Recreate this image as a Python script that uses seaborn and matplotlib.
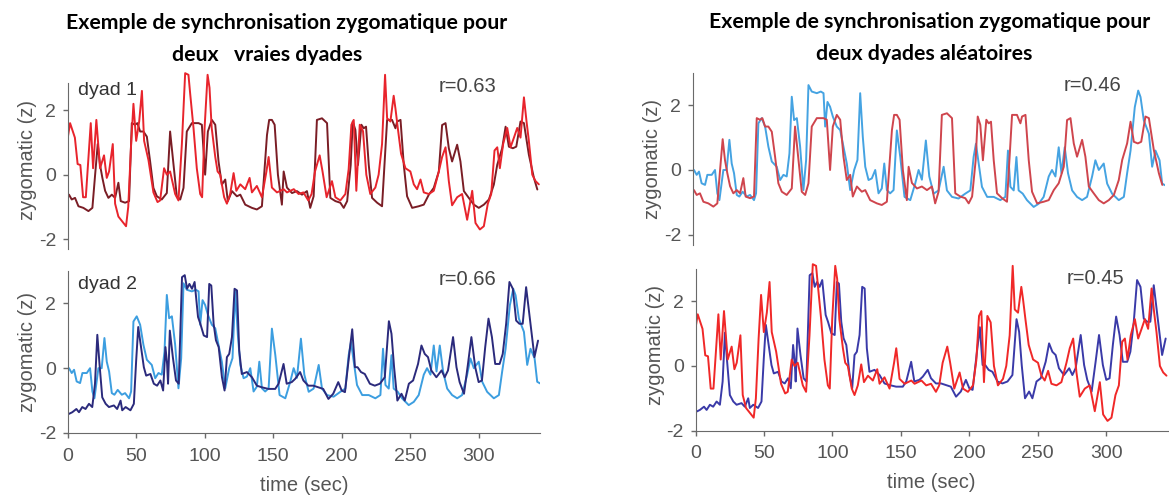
import matplotlib
matplotlib.use("Agg")
import matplotlib.pyplot as plt
import seaborn as sns

# Zygomatic z-scores (time in sec)
# person A of dyad 1 (bright red)
t_a = [0, 1.5, 5, 7, 9, 11, 13, 16.6, 18.3, 20.7,
       23.4, 26.3, 28.3, 30, 32.7, 34.4, 36.8, 40.5, 42.4, 44,
       46, 47.8, 49.8, 52, 54, 55.6, 58.8, 62.4, 65.4, 67.3,
       70.2, 72.2, 74.6, 78.3, 80.7, 83.2, 85.6, 88, 89.3, 91.7,
       94.1, 96.6, 98, 99.8, 102, 103.4, 105, 107.6, 109.3, 111.2,
       114.1, 116.1, 118.5, 121, 123, 125.9, 129.5, 132.7, 134.4, 138,
       141.7, 145, 146.6, 149, 152.7, 157.6, 160, 165, 168.5, 172,
       175.6, 178, 180.5, 183.9, 186, 189, 192.9, 195.4, 199, 202.7,
       205.1, 207.1, 208.8, 210.7, 213.2, 215.6, 218, 220.9, 224.6, 227,
       229.5, 231.7, 233.2, 235.6, 238, 239.3, 241, 243.4, 246.6, 250.2,
       252.7, 255.1, 257.6, 260, 263.7, 267.3, 271, 273.4, 275.9, 278.3,
       280.7, 284.4, 288, 291.7, 295.4, 297.8, 301, 303.9, 306.8, 309.3,
       311.7, 313.7, 315.6, 318, 321, 323.4, 325.9, 328.3, 330.7, 333.2,
       335.1, 336.8, 339.3, 341.7, 344.1]
z_a = [1.2, 1.6, 1.15, 0.33, 0.3, -0.7, -0.7, 1.6, 0.2, 1.7,
       0.2, 0.6, -0.1, 0.1, 0.95, -0.9, -1.3, -1.5, -1.6, -1.0,
       0.85, 2.2, 1.05, 1.65, 2.6, 1.05, 0.45, -0.55, -0.85, -0.8,
       0.2, 0.0, 0.1, -0.6, -0.8, 0.95, 3.15, 3.1, 2.5, 1.45,
       0.2, -0.6, -0.7, 1.45, 3.1, 2.7, 1.45, 0.55, 0.1, 0.0,
       -0.7, -0.9, -0.6, 0.05, -0.5, -0.3, -0.45, -0.1, -0.55, -0.35,
       -0.7, 0.1, 0.55, -0.4, -0.55, -0.45, -0.55, -0.45, -0.6, -0.55,
       -0.8, -0.6, 0.1, 0.6, 0.1, -0.7, -0.2, -0.7, -0.8, -0.6,
       0.17, 1.55, 1.7, -0.5, 1.55, 1.35, 0.0, -0.6, -0.4, 0.0,
       0.95, 3.1, 1.75, 1.65, 2.45, 2.05, 1.45, 0.65, 0.2, 0.1,
       -0.3, -0.45, -0.15, -0.55, -0.6, -0.5, 0.1, 0.55, 0.85, -0.2,
       -0.95, -0.7, -0.6, -1.4, -0.5, -1.5, -1.7, -1.6, -0.9, -0.6,
       0.75, 0.85, 0.2, 0.95, 1.45, 0.85, 1.15, 1.45, 1.15, 2.4,
       1.65, 1.05, 0.0, -0.2, -0.3]

# person B of dyad 1 (dark red)
t_b = [0.7, 2.7, 5.1, 7.6, 11.2, 14.9, 17.8, 19.8, 21.7, 23.4,
       25.1, 27.1, 29.5, 32, 34.4, 36.8, 38.5, 41.7, 44.6, 46.6,
       49, 50.7, 52.7, 55.1, 57.6, 60, 62.4, 64.9, 68.5, 72.2,
       74.6, 77.1, 79.5, 82, 84.4, 86.8, 90.5, 95.4, 97.8, 100.2,
       102.2, 105.1, 107.6, 110, 112.4, 114.9, 116.8, 119.8, 123.4, 125.9,
       129.5, 134.4, 138, 141.7, 145.4, 147, 149, 151, 153.4, 156.3,
       157.6, 160, 163.7, 167.3, 171, 174.6, 177, 179.5, 181.9, 185.6,
       189.3, 191.7, 195.4, 199, 201.5, 204, 206.6, 208.1, 210, 211.9,
       214.4, 216.1, 217.8, 219.8, 222.2, 225.9, 229.5, 233.2, 236.8, 239.3,
       240.5, 243, 245.4, 247.8, 251.5, 256.3, 260, 263.7, 267.3, 271,
       273.4, 275.9, 278.3, 280.7, 284.4, 286.8, 289.3, 292.9, 296.6, 300.2,
       303.9, 307.6, 311.2, 313.7, 317.3, 319.8, 322.2, 325.1, 327.6, 330.7,
       333.2, 336.8, 340.5, 343]
z_b = [-0.62, -0.77, -0.72, -0.98, -1.03, -1.13, -1.03, 0.0, 0.95, 0.3,
       -0.1, -0.5, -0.72, -0.62, -0.72, -0.25, -0.82, -0.87, -0.82, 1.6,
       1.55, 1.6, 1.34, 1.34, 1.18, 0.41, -0.41, -0.67, -0.77, -0.57,
       1.34, 0.31, -0.67, -0.77, -0.41, 1.34, 1.6, 1.6, 1.55, 0.0,
       1.34, 1.7, 1.55, 0.41, -0.31, -0.15, -0.82, -0.51, -0.67, -0.62,
       -0.93, -1.03, -1.08, -0.98, 1.23, 1.7, 1.7, 1.55, 0.0, -0.93,
       0.1, -0.4, -0.57, -0.51, -0.62, -0.51, -1.03, -0.67, 1.7, 1.75,
       1.6, -0.72, -0.82, -0.87, -1.03, -0.82, 0.3, 1.65, 1.39, 0.3,
       1.55, 1.44, 1.49, 0.3, -0.72, -0.87, -0.98, 1.7, 1.7, 1.44,
       1.65, 1.7, 0.3, -0.67, -1.03, -0.98, -0.93, -0.62, -0.41, 0.1,
       1.54, 1.6, 0.82, 0.41, 0.93, 0.41, -0.51, -0.72, -0.93, -1.03,
       -0.93, -0.77, -0.31, 0.31, 0.82, 1.49, 0.87, 0.82, 0.87, 1.65,
       1.6, 0.62, -0.1, -0.46]

# person A of dyad 2 (dark blue)
t_c = [0.7, 3.1, 6.1, 8.0, 10.4, 12.8, 15.3, 17.7, 19.7, 21.4,
       23.0, 25.0, 27.5, 29.9, 33.5, 35.9, 38.4, 39.6, 42.1, 45.6,
       48.1, 49.8, 51.3, 53.0, 55.4, 57.1, 60.2, 62.7, 65.1, 67.5,
       69.5, 71.2, 72.4, 73.1, 74.4, 76.6, 78.9, 80.9, 83.3, 85.3,
       87.0, 88.7, 90.6, 92.5, 95.0, 96.7, 99.2, 101.6, 103.2, 104.7,
       106.4, 108.1, 110.1, 112.5, 114.4, 116.1, 117.8, 119.8, 121.7, 123.5,
       125.1, 127.0, 130.7, 134.4, 138.0, 141.6, 146.5, 151.4, 153.9, 157.5,
       159.8, 163.5, 166.0, 169.6, 172.0, 175.6, 179.3, 182.9, 186.5, 190.3,
       193.8, 197.5, 200.0, 202.4, 205.3, 207.7, 209.7, 211.6, 214.1, 216.9,
       220.6, 224.2, 227.9, 231.5, 234.5, 236.4, 238.3, 240.7, 243.7, 246.1,
       249.1, 252.2, 255.8, 258.3, 260.7, 263.1, 265.5, 269.2, 273.0, 275.3,
       277.7, 281.4, 283.9, 286.2, 289.4, 292.3, 294.8, 297.6, 300.1, 302.5,
       304.9, 307.3, 309.8, 312.2, 315.4, 317.7, 320.2, 322.6, 325.1, 327.5,
       329.9, 332.3, 334.8, 336.5, 338.5, 340.9, 343.5]
z_c = [-1.41, -1.36, -1.26, -1.36, -1.2, -1.26, -1.1, -1.2, -0.48, 1.03,
       0.13, -0.9, -1.1, -1.2, -1.15, -1.26, -1.0, -1.3, -1.2, -1.3,
       -1.1, 0.24, 1.27, 0.75, 0.03, -0.23, -0.18, -0.48, -0.54, -0.38,
       -0.69, 0.65, 0.13, -0.48, 1.16, 0.34, -0.38, -0.48, 2.81, 2.87,
       2.45, 2.6, 2.45, 2.66, 1.58, 1.37, 1.01, 0.96, 2.6, 2.55,
       1.37, 0.86, 0.65, -0.28, -0.69, 0.34, 0.44, 0.96, 2.45, 2.4,
       0.55, -0.18, -0.12, -0.28, -0.54, -0.59, -0.64, -0.64, -0.48, 0.13,
       -0.48, -0.43, -0.33, -0.12, -0.38, -0.54, -0.54, -0.59, -0.64, -0.95,
       -0.79, -0.43, -0.69, -0.74, 0.34, 1.2, 0.03, 0.03, -0.12, -0.18,
       -0.48, -0.54, -0.48, -0.28, 1.45, 1.06, 0.03, -1.0, -0.79, -1.0,
       -0.48, -0.38, 0.13, 0.7, 0.44, 0.34, -0.07, -0.28, -0.07, -0.28,
       -0.07, 0.96, 0.03, -0.43, -0.79, 0.13, 0.96, 0.03, -0.43, -0.38,
       0.65, 1.53, 0.96, 0.13, 0.13, 0.44, 1.37, 2.66, 2.45, 1.47,
       1.37, 1.37, 2.5, 1.89, 1.16, 0.34, 0.85]

# person B of dyad 2 (light blue)
t_d = [0.7, 2.7, 4.4, 6.3, 8.8, 10.5, 13.7, 16.1, 17.8, 19.3,
       22.2, 24.6, 26.6, 28.3, 30, 32, 33.9, 36.3, 39.3, 41.7,
       44.6, 46.1, 47.8, 50.2, 52.7, 55.1, 57.6, 61.2, 63.7, 66.1,
       68.5, 70.5, 72.2, 73.9, 75.9, 78.3, 80.7, 82.7, 84.4, 86.8,
       90.5, 93.4, 95.4, 96.6, 98.3, 100.2, 102.2, 105.1, 107.6, 110,
       112.4, 114.9, 117.8, 120.2, 122.2, 124.1, 125.9, 128.3, 130.7, 133.2,
       135.6, 138, 139.8, 141.7, 144.1, 146.6, 149, 151.5, 154.6, 158.8,
       162.4, 164.9, 167.3, 170.2, 172.7, 175.9, 179.5, 183.2, 185.6, 189.3,
       194.1, 199, 202.7, 205.1, 206.8, 208.8, 211.2, 215, 219.8, 224.6,
       228.3, 230.2, 232, 234.4, 236.4, 238, 241, 244.1, 249, 252.7,
       256.3, 260, 262.4, 264.9, 267.3, 269.3, 271.7, 274.1, 277.1, 280.7,
       284.4, 288, 291.7, 294.1, 296.6, 300.2, 302.7, 306.3, 311.2, 314.9,
       317.3, 319.8, 322.9, 325.4, 327.1, 329.5, 333.2, 335.6, 338, 341,
       342.9, 345]
z_d = [0.0, -0.15, -0.05, -0.41, -0.46, -0.15, -0.15, 0.0, -0.72, -0.93,
       0.0, 0.0, 0.93, 0.2, -0.1, -0.77, -0.82, -0.67, -0.82, -0.77,
       -0.93, -0.72, 1.44, 1.6, 1.34, 0.72, 0.26, 0.1, -0.31, -0.15,
       -0.2, 0.51, 2.26, 1.54, 1.6, 0.72, -0.62, 0.31, 2.62, 2.42,
       2.37, 2.42, 2.37, 1.34, 2.1, 1.95, 1.65, 1.34, 1.23, 0.72,
       0.2, -0.62, 0.0, 0.31, 2.37, 1.03, 0.1, -0.31, -0.26, 0.0,
       -0.72, -0.57, 0.2, -0.62, -0.72, -0.62, 1.22, 0.4, -0.83, -0.93,
       -0.42, 0.0, -0.3, 0.91, -0.2, -0.73, -0.63, 0.1, -0.63, -0.83,
       -0.88, -0.73, -0.63, 0.4, 0.81, 0.2, -0.52, -0.83, -0.83, -0.93,
       -0.83, 0.6, -0.52, -0.63, 0.4, -0.63, -0.73, -0.93, -1.14, -1.04,
       -0.83, -0.2, 0.0, -0.2, 0.7, -0.1, 0.7, -0.1, -0.63, -0.83,
       -0.93, -0.83, -0.2, 0.3, 0.0, 0.2, -0.42, -0.73, -0.93, -0.83,
       -0.1, 0.6, 1.94, 2.45, 2.25, 1.53, 1.12, 0.1, 0.6, 0.3,
       -0.42, -0.47]

titles_left = ["Exemple de synchronisation zygomatique pour", "deux   vraies dyades"]
titles_right = ["Exemple de synchronisation zygomatique pour", "deux dyades aléatoires"]
r_values = ["r=0.63", "r=0.66", "r=0.46", "r=0.45"]

sns.set_style("ticks")
plt.rcParams["font.family"] = ["Liberation Sans", "DejaVu Sans"]
plt.rcParams["axes.unicode_minus"] = False

GRAY = "#555555"

fig = plt.figure(figsize=(11.69, 4.95), dpi=100)

# axes: [left, bottom, width, height]
ax_tl = fig.add_axes([0.0582, 0.4974, 0.4038, 0.358])
ax_bl = fig.add_axes([0.0582, 0.1253, 0.4038, 0.3273])
ax_tr = fig.add_axes([0.5928, 0.506, 0.4038, 0.347])
ax_br = fig.add_axes([0.5951, 0.1301, 0.4038, 0.3459])


def draw(ax, t, z, color):
    sns.lineplot(x=t, y=z, ax=ax, color=color, linewidth=1.4,
                 estimator=None, sort=False, solid_joinstyle="round")


draw(ax_tl, t_b, z_b, "#7a1d25")
draw(ax_tl, t_a, z_a, "#e8242c")
draw(ax_bl, t_d, z_d, "#3c9ee0")
draw(ax_bl, t_c, z_c, "#2b2a7c")
draw(ax_tr, t_d, z_d, "#45a3e2")
draw(ax_tr, t_b, z_b, "#cf454d")
draw(ax_br, t_c, z_c, "#3a3aa8")
draw(ax_br, t_a, z_a, "#f02828")

limits = {ax_tl: (-2.3, 3.2, 2.85), ax_bl: (-2.0, 3.0, 3.0),
          ax_tr: (-2.3, 3.0, 3.0), ax_br: (-2.0, 3.3, 3.0)}

for ax, (lo, hi, spine_top) in limits.items():
    ax.set_xlim(0, 345)
    ax.set_ylim(lo, hi)
    ax.set_yticks([-2, 0, 2])
    ax.spines["top"].set_visible(False)
    ax.spines["right"].set_visible(False)
    ax.spines["left"].set_bounds(lo, spine_top)
    ax.spines["left"].set_color("#6a6a6a")
    ax.spines["bottom"].set_color("#6a6a6a")
    ax.tick_params(colors="#6a6a6a", labelcolor=GRAY, labelsize=14,
                   length=3.5, width=1)
    ax.tick_params(axis="y", pad=5)
    ax.tick_params(axis="x", pad=7)
    ax.set_ylabel("zygomatic (z)", fontsize=14.5, color=GRAY, labelpad=1)

for ax in (ax_tl, ax_tr):
    ax.spines["bottom"].set_visible(False)
    ax.set_xticks([])
    ax.set_xlabel("")

for ax in (ax_bl, ax_br):
    ax.set_xticks([0, 50, 100, 150, 200, 250, 300])
    ax.set_xlabel("time (sec)", fontsize=14.5, color=GRAY, labelpad=8)

ax_tl.text(7, 2.6, "dyad 1", fontsize=14, color="#333333", va="center")
ax_bl.text(7, 2.58, "dyad 2", fontsize=14, color="#333333", va="center")
for ax, label, y in zip((ax_tl, ax_bl, ax_tr, ax_br), r_values, (2.74, 2.74, 2.62, 2.72)):
    ax.text(271, y, label, fontsize=14.5, color="#444444", va="center")

# titles
title_font = dict(family=["Lato", "DejaVu Sans"], fontweight="bold", fontsize=15.3,
                  ha="center", va="center", color="black")
fig.text(287 / 1169, 1 - 23 / 495, titles_left[0], **title_font)
fig.text(267 / 1169, 1 - 55 / 495, titles_left[1], **title_font)
fig.text(930 / 1169, 1 - 22 / 495, titles_right[0], **title_font)
fig.text(924 / 1169, 1 - 54 / 495, titles_right[1], **title_font)

fig.savefig("out.png", dpi=100)
